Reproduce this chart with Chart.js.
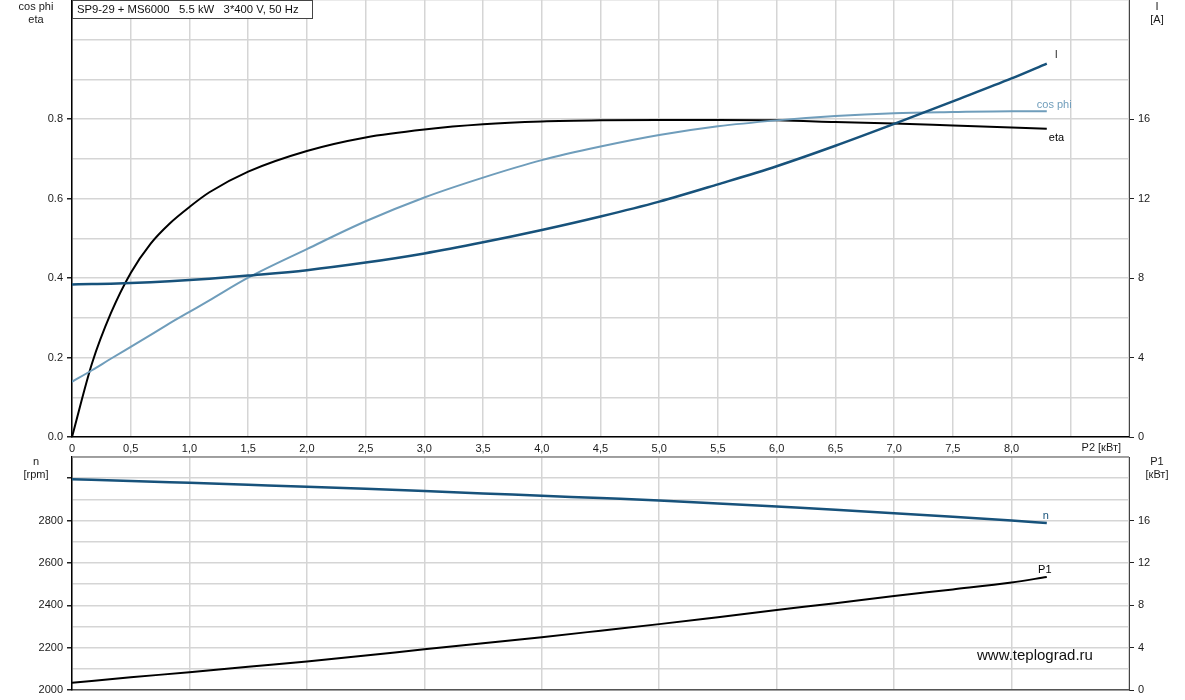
<!DOCTYPE html>
<html>
<head>
<meta charset="utf-8">
<script src="https://cdn.jsdelivr.net/npm/chart.js@4.4.1/dist/chart.umd.min.js"></script>
<style>
  html, body { margin: 0; padding: 0; background: #fff; }
  #wrap { position: relative; width: 1185px; height: 700px; overflow: hidden; }
  #topChart { position: absolute; left: 0; top: 0; }
  #bottomChart { position: absolute; left: 0; top: 452px; }
</style>
</head>
<body>
<div id="wrap">
  <canvas id="topChart" width="1185" height="456"></canvas>
  <canvas id="bottomChart" width="1185" height="248"></canvas>
</div>
<script>
'use strict';
// P2 shaft power [kW], upper panel
let p2Top = [0, 0.17, 0.33, 0.5, 0.67, 0.83, 1.0, 1.17, 1.5, 2.0, 2.5, 3.0, 3.5, 4.0, 4.5, 5.0, 5.5, 6.0, 6.5, 7.0, 7.5, 8.0, 8.3];
let etaValues = [0, 0.185, 0.311, 0.413, 0.487, 0.537, 0.579, 0.616, 0.668, 0.72, 0.754, 0.774, 0.787, 0.794, 0.797, 0.798, 0.798, 0.797, 0.793, 0.789, 0.784, 0.779, 0.776];
let cosPhiValues = [0.139, 0.168, 0.197, 0.227, 0.257, 0.286, 0.315, 0.344, 0.401, 0.473, 0.543, 0.603, 0.653, 0.697, 0.731, 0.76, 0.782, 0.797, 0.808, 0.815, 0.818, 0.82, 0.82];
let currentValues = [7.68, 7.7, 7.72, 7.75, 7.79, 7.84, 7.9, 7.97, 8.13, 8.4, 8.78, 9.24, 9.8, 10.42, 11.1, 11.85, 12.72, 13.63, 14.66, 15.76, 16.9, 18.05, 18.8];

// lower panel
let p2Bottom = [0, 0.5, 1, 1.5, 2, 2.5, 3, 3.5, 4, 4.5, 5, 5.5, 6, 6.5, 7, 7.5, 8, 8.3];
let speedValues = [2995, 2987, 2978, 2969, 2960, 2950, 2939, 2928, 2917, 2906, 2895, 2881, 2866, 2851, 2835, 2818, 2800, 2788];
let p1Values = [0.69, 1.2, 1.68, 2.2, 2.68, 3.25, 3.85, 4.42, 4.99, 5.6, 6.22, 6.88, 7.55, 8.2, 8.88, 9.5, 10.15, 10.67];

// tick labels
let etaTicks = [0, 0.2, 0.4, 0.6, 0.8];
let currentTicks = [0, 4, 8, 12, 16];
let p2TickMax = 8.0;
let speedTicks = [2000, 2200, 2400, 2600, 2800];
let speedMarks = [2000, 2200, 2400, 2600, 2800, 3000];
let p1Ticks = [0, 4, 8, 12, 16];

let titleText = 'SP9-29 + MS6000   5.5 kW   3*400 V, 50 Hz';
let fontFamily = "'Liberation Sans', Arial, sans-serif";

Chart.defaults.font.family = fontFamily;
Chart.defaults.font.size = 11;
Chart.defaults.color = '#1a1a1a';

let gridColor = '#d5d5d5';
let darkBlue = '#17527b';
let lightBlue = '#6f9dbb';

function toPoints(xs, ys) {
    return xs.map((x, i) => ({ x: x, y: ys[i] }));
}
function inList(list, v) {
    return list.some(t => Math.abs(t - v) < 1e-6);
}
function fitWidth(w) {
    return function (scale) {
        scale.width = w;
        scale.paddingTop = 0;
        scale.paddingBottom = 0;
    };
}
function fitHeight(h) {
    return function (scale) {
        scale.height = h;
        scale.paddingLeft = 0;
        scale.paddingRight = 0;
    };
}

// texts: curve names at line ends, axis titles, caption box, watermark
let textPlugin = {
    id: 'pumpTexts',
    afterDraw(chart, args, opts) {
        let ctx = chart.ctx;
        let area = chart.chartArea;
        ctx.save();
        ctx.font = '11px ' + fontFamily;
        ctx.textBaseline = 'middle';

        chart.data.datasets.forEach((ds, i) => {
            let meta = chart.getDatasetMeta(i);
            let last = meta.data[meta.data.length - 1];
            ctx.fillStyle = ds.endLabel.color;
            ctx.textAlign = ds.endLabel.align;
            ctx.fillText(ds.endLabel.text, last.x + ds.endLabel.dx, last.y + ds.endLabel.dy);
        });

        ctx.fillStyle = '#1a1a1a';
        ctx.textAlign = 'center';
        let lx = area.left / 2;
        let rx = (area.right + chart.width) / 2;
        opts.leftTitle.forEach((t, i) => ctx.fillText(t, lx, opts.titleTop + i * 13));
        opts.rightTitle.forEach((t, i) => ctx.fillText(t, rx, opts.titleTop + i * 13));

        if (opts.caption) {
            ctx.fillStyle = '#fff';
            ctx.fillRect(area.left, area.top, 240, 19);
            ctx.strokeStyle = '#444';
            ctx.lineWidth = 1;
            ctx.strokeRect(area.left + 0.5, area.top + 0.5, 240, 18);
            ctx.fillStyle = '#111';
            ctx.textAlign = 'left';
            ctx.font = '11.3px ' + fontFamily;
            ctx.fillText(opts.caption, area.left + 5, area.top + 10);
        }
        ctx.font = '11px ' + fontFamily;
        if (opts.xTitle) {
            ctx.fillStyle = '#1a1a1a';
            ctx.textAlign = 'right';
            ctx.fillText(opts.xTitle, area.right - 8, area.bottom + 11);
        }
        if (opts.frameTop) {
            ctx.strokeStyle = '#8a8a8a';
            ctx.lineWidth = 1.5;
            ctx.beginPath();
            ctx.moveTo(area.left, area.top);
            ctx.lineTo(area.right, area.top);
            ctx.stroke();
        }
        if (opts.watermark) {
            ctx.font = '15px ' + fontFamily;
            ctx.fillStyle = '#111';
            ctx.textAlign = 'left';
            ctx.fillText(opts.watermark, area.right - 152, area.bottom - 34);
        }
        ctx.restore();
    }
};

function tickMarkColor(list) {
    return function (c) {
        return c.tick && inList(list, c.tick.value) ? '#222' : 'rgba(0,0,0,0)';
    };
}

let topChart = new Chart(document.getElementById('topChart').getContext('2d'), {
    type: 'line',
    data: {
        datasets: [
            {
                label: 'I', data: toPoints(p2Top, currentValues), yAxisID: 'yI',
                borderColor: darkBlue, borderWidth: 2.5,
                endLabel: { text: 'I', color: '#333', dx: 8, dy: -9, align: 'left' }
            },
            {
                label: 'cos phi', data: toPoints(p2Top, cosPhiValues), yAxisID: 'y',
                borderColor: lightBlue, borderWidth: 2,
                endLabel: { text: 'cos phi', color: lightBlue, dx: -10, dy: -6, align: 'left' }
            },
            {
                label: 'eta', data: toPoints(p2Top, etaValues), yAxisID: 'y',
                borderColor: '#000', borderWidth: 2,
                endLabel: { text: 'eta', color: '#000', dx: 2, dy: 9, align: 'left' }
            }
        ]
    },
    options: {
        responsive: false,
        animation: false,
        events: [],
        layout: { padding: 0 },
        elements: { point: { radius: 0 }, line: { cubicInterpolationMode: 'monotone' } },
        plugins: {
            legend: { display: false },
            tooltip: { enabled: false },
            pumpTexts: {
                leftTitle: ['cos phi', 'eta'], rightTitle: ['I', '[A]'], titleTop: 7,
                caption: titleText, xTitle: 'P2 [кВт]'
            }
        },
        scales: {
            x: {
                type: 'linear', min: 0, max: 9,
                ticks: {
                    stepSize: 0.5, padding: 5, maxRotation: 0, autoSkip: false,
                    callback: v => v > p2TickMax + 1e-6 ? '' : (v === 0 ? '0' : v.toFixed(1).replace('.', ','))
                },
                grid: { color: gridColor, lineWidth: 1.5, drawTicks: false },
                border: { display: true, color: '#000', width: 1.5 },
                afterFit: fitHeight(19)
            },
            y: {
                position: 'left', min: 0, max: 1.1,
                ticks: {
                    stepSize: 0.1, padding: 4, autoSkip: false,
                    callback: v => inList(etaTicks, v) ? v.toFixed(1) : ''
                },
                grid: { color: gridColor, lineWidth: 1.5, tickLength: 5, tickColor: tickMarkColor(etaTicks) },
                border: { display: true, color: '#000', width: 1.5 },
                afterFit: fitWidth(72)
            },
            yI: {
                position: 'right', min: 0, max: 22,
                ticks: {
                    stepSize: 2, padding: 4, autoSkip: false,
                    callback: v => inList(currentTicks, v) ? String(v) : ''
                },
                grid: { drawOnChartArea: false, tickLength: 5, tickColor: tickMarkColor(currentTicks) },
                border: { display: true, color: '#444', width: 1, dash: [1, 1] },
                afterFit: fitWidth(56)
            }
        }
    },
    plugins: [textPlugin]
});

let bottomChart = new Chart(document.getElementById('bottomChart').getContext('2d'), {
    type: 'line',
    data: {
        datasets: [
            {
                label: 'n', data: toPoints(p2Bottom, speedValues), yAxisID: 'y',
                borderColor: darkBlue, borderWidth: 2.5,
                endLabel: { text: 'n', color: darkBlue, dx: -1, dy: -7, align: 'center' }
            },
            {
                label: 'P1', data: toPoints(p2Bottom, p1Values), yAxisID: 'yP',
                borderColor: '#000', borderWidth: 2,
                endLabel: { text: 'P1', color: '#000', dx: -2, dy: -7, align: 'center' }
            }
        ]
    },
    options: {
        responsive: false,
        animation: false,
        events: [],
        layout: { padding: { top: 5 } },
        elements: { point: { radius: 0 }, line: { cubicInterpolationMode: 'monotone' } },
        plugins: {
            legend: { display: false },
            tooltip: { enabled: false },
            pumpTexts: {
                leftTitle: ['n', '[rpm]'], rightTitle: ['P1', '[кВт]'], titleTop: 10,
                frameTop: true, watermark: 'www.teplograd.ru'
            }
        },
        scales: {
            x: {
                type: 'linear', min: 0, max: 9,
                ticks: { display: false, stepSize: 1 },
                grid: { color: gridColor, lineWidth: 1.5, drawTicks: false },
                border: { display: true, color: '#555', width: 1.5 },
                afterFit: fitHeight(10)
            },
            y: {
                position: 'left', min: 2000, max: 3100,
                ticks: {
                    stepSize: 100, padding: 4, autoSkip: false,
                    callback: v => inList(speedTicks, v) ? String(v) : ''
                },
                grid: { color: gridColor, lineWidth: 1.5, tickLength: 5, tickColor: tickMarkColor(speedMarks) },
                border: { display: true, color: '#000', width: 1.5 },
                afterFit: fitWidth(72)
            },
            yP: {
                position: 'right', min: 0, max: 22,
                ticks: {
                    stepSize: 2, padding: 4, autoSkip: false,
                    callback: v => inList(p1Ticks, v) ? String(v) : ''
                },
                grid: { drawOnChartArea: false, tickLength: 5, tickColor: tickMarkColor(p1Ticks) },
                border: { display: true, color: '#444', width: 1, dash: [1, 1] },
                afterFit: fitWidth(56)
            }
        }
    },
    plugins: [textPlugin]
});
</script>
</body>
</html>
